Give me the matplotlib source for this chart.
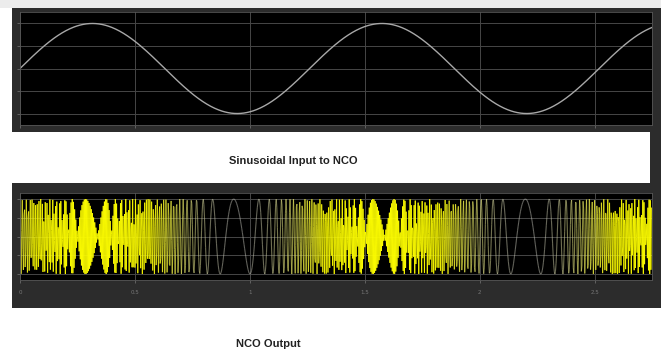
import numpy as np
import matplotlib
matplotlib.use('Agg')
import matplotlib.pyplot as plt
from matplotlib.collections import LineCollection
from matplotlib.patches import Rectangle

# input sine
in_amp = 1.0
in_period = 1.26
t_end = 2.75

# NCO output
nco_fs = 400.0        # samples per time unit
nco_f_min = 6.0       # slow swing at the input minimum
nco_f_max = 195.5     # close to Nyquist at the input maximum
nco_amp = 1.0

x_ticks = [0, 0.5, 1, 1.5, 2, 2.5]
x_tick_labels = ['0', '0.5', '1', '1.5', '2', '2.5']
y_ticks = [-1, -0.5, 0, 0.5, 1]

top_caption = 'Sinusoidal Input to NCO'
bottom_caption = 'NCO Output'

W, H = 661, 353
fig = plt.figure(figsize=(W / 100, H / 100), dpi=100, facecolor='white')


def box(x0, y0, x1, y1):
    'pixel box (top-left origin) -> figure fraction rect'
    return [x0 / W, 1 - y1 / H, (x1 - x0) / W, (y1 - y0) / H]


def frame(x0, y0, x1, y1, color):
    fig.patches.append(Rectangle((x0 / W, 1 - y1 / H), (x1 - x0) / W, (y1 - y0) / H,
                                 transform=fig.transFigure, facecolor=color,
                                 edgecolor='none', zorder=-5))


# scope frames
frame(0, 0, W, 8, '#ececec')
frame(12, 8, W, 132, '#2c2c2c')
frame(12, 183, W, 308, '#2c2c2c')
frame(650, 132, W, 183, '#2c2c2c')


def style(ax):
    ax.set_facecolor('black')
    ax.set_zorder(2)
    ax.set_xlim(0, t_end)
    ax.set_xticks(x_ticks)
    ax.set_yticks(y_ticks)
    ax.grid(True, color='#474747', linewidth=0.7)
    ax.tick_params(colors='#777777', length=2, width=0.5, labelsize=4, pad=5)
    for s in ax.spines.values():
        s.set_color('#555555')
        s.set_linewidth(0.6)
    ax.set_yticklabels([])


# top: input sine
ax1 = fig.add_axes(box(20, 12, 652, 125))
style(ax1)
ax1.set_ylim(-1.255, 1.255)
ax1.set_xticklabels([])
t_in = np.linspace(0, t_end, 800)
u_in = in_amp * np.sin(2 * np.pi * t_in / in_period)
ax1.plot(t_in, u_in, color='#a8a8a8', linewidth=1.0)

# bottom: NCO output
ax2 = fig.add_axes(box(20, 193, 652, 280))
style(ax2)
ax2.set_ylim(-1.16, 1.16)
ax2.set_xticklabels(x_tick_labels)

t_s = np.arange(0, t_end, 1 / nco_fs)
u_s = in_amp * np.sin(2 * np.pi * t_s / in_period)
f0 = (nco_f_max + nco_f_min) / 2
k = (nco_f_max - nco_f_min) / 2
freq = f0 + k * u_s
phase = 2 * np.pi * np.cumsum(freq) / nco_fs
y_out = nco_amp * np.sin(phase)

pts = np.column_stack([t_s, y_out])
segs = np.stack([pts[:-1], pts[1:]], axis=1)
frac = np.clip((freq[:-1] - nco_f_min) / (nco_f_max - nco_f_min), 0, 1)
low = np.array([0.75, 0.75, 0.72])
high = np.array([1.0, 1.0, 0.0])
mix = np.clip(frac * 1.5, 0, 1)[:, None]
cols = low * (1 - mix) + high * mix
cols = np.column_stack([cols, 0.5 + 0.4 * frac])
lc = LineCollection(segs, colors=cols, linewidths=0.8)
ax2.add_collection(lc)

fig.text(293 / W, 1 - 161 / H, top_caption, ha='center', va='center',
         fontsize=8, fontweight='bold', color='#222222', family='Liberation Sans')
fig.text(268 / W, 1 - 344 / H, bottom_caption, ha='center', va='center',
         fontsize=8, fontweight='bold', color='#222222', family='Liberation Sans')

fig.savefig('out.png', dpi=100, facecolor='white')
